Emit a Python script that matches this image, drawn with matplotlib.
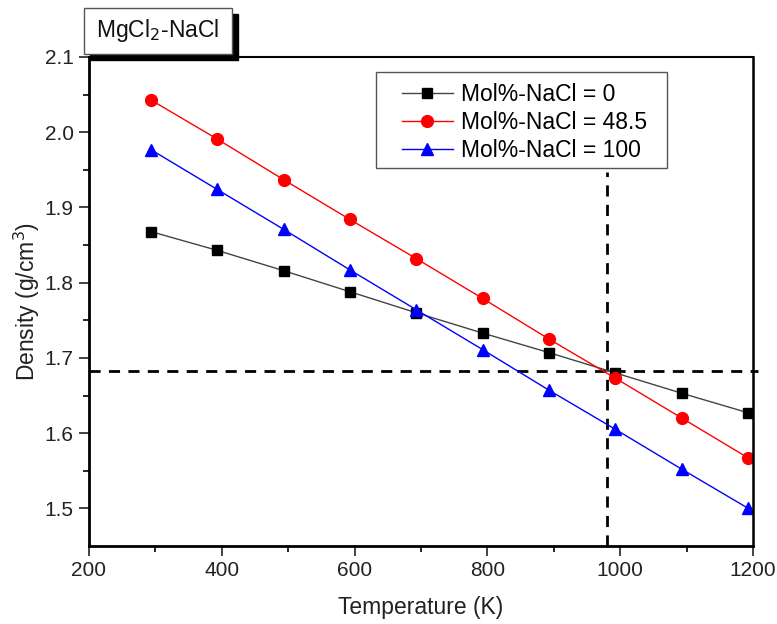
import matplotlib.pyplot as plt
from matplotlib.patches import Rectangle

plt.rcParams["font.family"] = ["Liberation Sans", "DejaVu Sans"]

# ==========================================================
# Data
# ==========================================================

temperature = [293, 393, 493, 593, 693, 793, 893, 993, 1093, 1193]

density_0 = [1.868, 1.843, 1.816, 1.788, 1.760, 1.733, 1.707, 1.680, 1.653, 1.627]
density_48 = [2.043, 1.991, 1.937, 1.884, 1.832, 1.779, 1.725, 1.673, 1.620, 1.567]
density_100 = [1.977, 1.924, 1.871, 1.817, 1.764, 1.711, 1.657, 1.605, 1.552, 1.500]

cross_t = 980
cross_d = 1.683

# ==========================================================
# Figure
# ==========================================================

fig = plt.figure(figsize=(7.77, 6.24), dpi=100)
ax = fig.add_axes([0.1145, 0.125, 0.8545, 0.7837])

ax.plot(temperature, density_0, color="#444444", lw=1, marker="s", ms=7.5,
        mfc="black", mec="black", label="Mol%-NaCl = 0")
ax.plot(temperature, density_48, color="red", lw=1, marker="o", ms=8.5,
        mfc="red", mec="red", label="Mol%-NaCl = 48.5")
ax.plot(temperature, density_100, color="blue", lw=1, marker="^", ms=9,
        mfc="blue", mec="blue", label="Mol%-NaCl = 100")

# crossing guides
ax.plot([200, 1207], [cross_d, cross_d], "k--", lw=2, dashes=(4, 3),
        clip_on=False, zorder=1)
ax.plot([cross_t, cross_t], [1.45, 1.947], "k--", lw=2, dashes=(4, 3),
        clip_on=False, zorder=1)

ax.set_xlim(200, 1200)
ax.set_ylim(1.45, 2.1)
ax.set_xticks([200, 400, 600, 800, 1000, 1200])
ax.set_xticks([300, 500, 700, 900, 1100], minor=True)
ax.set_yticks([1.5, 1.6, 1.7, 1.8, 1.9, 2.0, 2.1])
ax.set_yticks([1.55, 1.65, 1.75, 1.85, 1.95, 2.05], minor=True)
ax.set_yticklabels(["1.5", "1.6", "1.7", "1.8", "1.9", "2.0", "2.1"])

ax.tick_params(which="major", direction="out", length=7, width=1.2,
               labelsize=15, colors="#222222", pad=4)
ax.tick_params(which="minor", direction="out", length=4, width=1.2)

ax.spines["left"].set_linewidth(2)
ax.spines["bottom"].set_linewidth(2)
ax.spines["top"].set_linewidth(1.5)
ax.spines["right"].set_linewidth(1.8)

ax.set_xlabel("Temperature (K)", fontsize=16.5, color="#222222", labelpad=11)
ax.set_ylabel("Density (g/cm$^3$)", fontsize=16.5, color="#222222", labelpad=2)

# legend: box drawn separately so the inner padding matches
ax.add_patch(Rectangle((0.432, 0.773), 0.438, 0.196, transform=ax.transAxes,
                       facecolor="white", edgecolor="#555555", lw=1,
                       zorder=3))
leg = ax.legend(loc="upper left", bbox_to_anchor=(0.471, 0.946),
                fontsize=16.5, frameon=False, handlelength=2.25,
                borderpad=0, labelspacing=0.2, handletextpad=0.35,
                borderaxespad=0)
leg.set_zorder(4)

# ==========================================================
# Title box with shadow
# ==========================================================

W, H = 777, 624
bx0, by0, bx1, by1 = 84, 8, 232, 54
fig.patches.append(Rectangle(((bx0 + 6) / W, 1 - (by1 + 6) / H),
                             (bx1 - bx0) / W, (by1 - by0) / H,
                             transform=fig.transFigure, facecolor="black",
                             edgecolor="black", zorder=5))
fig.patches.append(Rectangle((bx0 / W, 1 - by1 / H),
                             (bx1 - bx0) / W, (by1 - by0) / H,
                             transform=fig.transFigure, facecolor="white",
                             edgecolor="#555555", lw=1, zorder=6))
fig.text((bx0 + bx1) / 2 / W, 1 - (by0 + by1) / 2 / H, "MgCl$_2$-NaCl",
         ha="center", va="center", fontsize=16.5, color="#111111", zorder=7)

fig.savefig("out.png", dpi=100)
